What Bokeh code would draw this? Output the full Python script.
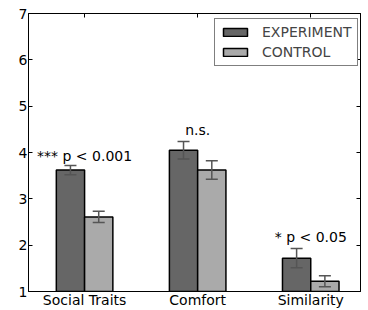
import numpy as np
from bokeh.plotting import figure
from bokeh.models import (ColumnDataSource, Range1d, LinearAxis, FixedTicker,
                          Whisker, TeeHead, Legend, LegendItem)
from bokeh.core.properties import value
from bokeh.embed import file_html
from bokeh.resources import INLINE

# ---- data ----
categories = ["Social Traits", "Comfort", "Similarity"]
experiment = [3.62, 4.05, 1.72]
experiment_err = [0.10, 0.19, 0.21]
control = [2.61, 3.62, 1.22]
control_err = [0.12, 0.20, 0.12]
series_names = ["EXPERIMENT", "CONTROL"]
annotations = ["*** p < 0.001", "n.s.", "* p < 0.05"]
y_ticks = [1, 2, 3, 4, 5, 6, 7]

FONT = "DejaVu Sans"
EXP_COLOR = "#666666"
CTRL_COLOR = "#aaaaaa"
ERR_COLOR = "#555555"
W = 0.25

idx = np.arange(len(categories))
exp_x = idx - W / 2
ctrl_x = idx + W / 2
exp = np.array(experiment)
ctl = np.array(control)

p = figure(width=368, height=310, output_backend="svg",
           toolbar_location=None, x_range=Range1d(-0.496, 2.44),
           y_range=Range1d(1, 7), min_border_left=28, min_border_top=13,
           min_border_right=8, min_border_bottom=16)
p.grid.visible = False
p.outline_line_color = "black"
p.background_fill_color = "white"
p.border_fill_color = "white"

src_e = ColumnDataSource(dict(x=exp_x, top=exp, upper=exp + np.array(experiment_err),
                              lower=exp - np.array(experiment_err)))
src_c = ColumnDataSource(dict(x=ctrl_x, top=ctl, upper=ctl + np.array(control_err),
                              lower=ctl - np.array(control_err)))

r_e = p.vbar(x="x", top="top", bottom=1, width=W, source=src_e,
             fill_color=EXP_COLOR, line_color="black", line_width=1.5)
r_c = p.vbar(x="x", top="top", bottom=1, width=W, source=src_c,
             fill_color=CTRL_COLOR, line_color="black", line_width=1.5)

for s in (src_e, src_c):
    wk = Whisker(base="x", upper="upper", lower="lower", source=s,
                 line_color=ERR_COLOR, line_width=1.5, level="annotation",
                 upper_head=TeeHead(size=12, line_color=ERR_COLOR, line_width=1.5),
                 lower_head=TeeHead(size=12, line_color=ERR_COLOR, line_width=1.5))
    p.add_layout(wk)

# annotations
ann_y = [3.92, 4.48, 2.17]
p.text(x=idx, y=ann_y, text=annotations, text_font=value(FONT),
       text_font_size="14px", text_align="center", text_baseline="alphabetic",
       text_color="black")

def style_axis(ax, labels=True):
    ax.axis_line_color = "black"
    ax.major_tick_in = 4
    ax.major_tick_out = 0
    ax.minor_tick_line_color = None
    ax.major_tick_line_color = "black"
    if labels:
        ax.major_label_text_font = FONT
        ax.major_label_text_font_size = "14px"
        ax.major_label_text_color = "black"
        ax.major_label_standoff = 1
    else:
        ax.major_label_text_font_size = "1px"
        ax.major_label_text_color = None
        ax.major_label_standoff = 0

# bottom
p.xaxis.ticker = FixedTicker(ticks=list(idx))
p.xaxis.major_label_overrides = {int(i): c for i, c in zip(idx, categories)}
style_axis(p.xaxis[0])
p.xaxis.major_label_standoff = 0
# left
p.yaxis.ticker = FixedTicker(ticks=y_ticks)
style_axis(p.yaxis[0])
# top
top_ax = LinearAxis(ticker=FixedTicker(ticks=list(idx)))
style_axis(top_ax, labels=False)
p.add_layout(top_ax, "above")
# right
right_ax = LinearAxis(ticker=FixedTicker(ticks=y_ticks))
style_axis(right_ax, labels=False)
p.add_layout(right_ax, "right")

legend = Legend(items=[LegendItem(label=series_names[0], renderers=[r_e]),
                       LegendItem(label=series_names[1], renderers=[r_c])],
                location=(186, 225), margin=0, padding=5, spacing=4,
                glyph_width=30, glyph_height=10, label_standoff=12,
                label_text_font=FONT, label_text_font_size="14px",
                border_line_color="black", border_line_width=1,
                background_fill_alpha=1.0)
p.add_layout(legend)

open("out.html", "w").write(file_html(p, INLINE))
